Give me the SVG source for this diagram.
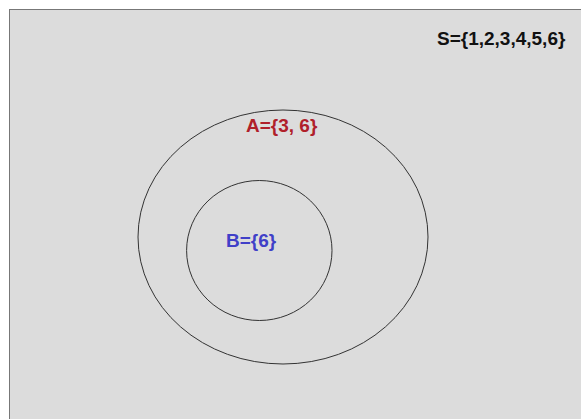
<svg xmlns="http://www.w3.org/2000/svg" width="581" height="419" viewBox="0 0 581 419">
<style>
.set{fill:none;stroke:#333;stroke-width:1}
.lbl{font-family:"Liberation Sans",Arial,sans-serif;font-weight:bold;font-size:19px}
</style>
<rect x="0" y="0" width="581" height="419" fill="#fff"/>
<rect x="9.5" y="9.5" width="580" height="420" fill="#dcdcdc" stroke="#777" stroke-width="1"/>
<g id="S">
<text class="lbl" x="437" y="45" fill="#111">S={1,2,3,4,5,6}</text>
</g>
<g id="A">
<ellipse class="set" cx="283" cy="237" rx="145" ry="127"/>
<text class="lbl" x="246" y="132" fill="#b0202a">A={3, 6}</text>
</g>
<g id="B">
<ellipse class="set" cx="259.3" cy="250.5" rx="72.7" ry="70"/>
<text class="lbl" x="226" y="247" fill="#4040c8">B={6}</text>
</g>
<g id="connectors"/>
</svg>
